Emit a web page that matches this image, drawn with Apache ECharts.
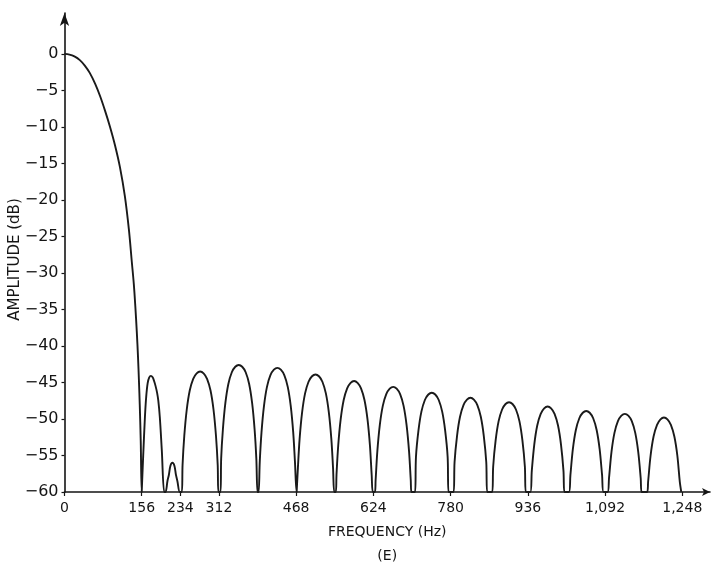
<!DOCTYPE html>
<html><head><meta charset="utf-8">
<script src="https://cdn.jsdelivr.net/npm/echarts@6/dist/echarts.min.js"></script>
<style>html,body{margin:0;padding:0;background:#fff}#c{width:714px;height:566px}</style>
</head><body><div id="c"></div>
<script>
// Tick values (Hz and dB)
const xTickValues = [0, 156, 234, 312, 468, 624, 780, 936, 1092, 1248];
const yTickValues = [0, -5, -10, -15, -20, -25, -30, -35, -40, -45, -50, -55, -60];

// Curve points: [frequency Hz, amplitude dB]
const mainLobe = [[0,0],[10,-0.1],[20,-0.35],[31,-0.85],[41,-1.6],[51,-2.6],[62,-4.1],[72,-5.8],[82,-7.8],[92,-10],[102,-12.5],[112,-15.5],[122,-19.5],[130,-24],[136,-28.5],[140,-31.5],[143,-34.5],[146,-38],[148.5,-41.5],[150.5,-45],[152,-48],[154,-53],[156,-60]];
const lobe1  = [[157,-60],[159,-55],[162.5,-49.7],[165,-47],[168,-45.1],[171,-44.35],[174.5,-44.1],[178,-44.3],[181,-44.8],[184,-45.5],[187,-46.4],[189.5,-47.5],[192.5,-49.7],[196.5,-54.2],[201.5,-60]];
const lobe2  = [[204,-60],[208,-58.5],[211,-57.6],[214,-56.4],[218,-56],[222,-56.4],[225,-57.6],[228,-58.5],[233,-60]];
const lobe3  = [[237,-60],[238.5,-56.3],[242,-52.3],[247,-48.7],[253,-46.1],[260,-44.5],[267,-43.75],[274,-43.5],[281,-43.75],[288,-44.5],[295,-46.1],[301,-48.7],[306,-52.3],[309.5,-56.3],[311,-60]];
const lobe4  = [[315,-60],[316.5,-55.4],[320,-51.4],[325,-47.8],[331,-45.2],[338,-43.6],[345,-42.85],[352,-42.6],[359,-42.85],[366,-43.6],[373,-45.2],[379,-47.8],[384,-51.4],[387.5,-55.4],[390,-60]];
const lobe5  = [[392,-60],[394.5,-55.8],[398,-51.8],[403,-48.2],[409,-45.6],[416,-44],[423,-43.25],[430,-43],[437,-43.25],[444,-44],[451,-45.6],[457,-48.2],[462,-51.8],[465.5,-55.8],[469,-60]];
const lobe6  = [[470,-60],[471.5,-56.7],[475,-52.7],[480,-49.1],[486,-46.5],[493,-44.9],[500,-44.15],[507,-43.9],[514,-44.15],[521,-44.9],[528,-46.5],[534,-49.1],[539,-52.7],[542.5,-56.7],[545,-60]];
const lobe7  = [[548,-60],[549.5,-57.6],[553,-53.6],[558,-50],[564,-47.4],[571,-45.8],[578,-45.05],[585,-44.8],[592,-45.05],[599,-45.8],[606,-47.4],[612,-50],[617,-53.6],[620.5,-57.6],[623,-60]];
const lobe8  = [[627,-60],[628.5,-58.4],[632,-54.4],[637,-50.8],[643,-48.2],[650,-46.6],[657,-45.85],[664,-45.6],[671,-45.85],[678,-46.6],[685,-48.2],[691,-50.8],[696,-54.4],[699.5,-58.4],[701,-60]];
const lobe9  = [[708,-60],[710,-55.2],[715,-51.6],[721,-49],[728,-47.4],[735,-46.65],[742,-46.4],[749,-46.65],[756,-47.4],[763,-49],[769,-51.6],[774,-55.2],[776,-60]];
const lobe10 = [[786,-60],[788,-55.9],[793,-52.3],[799,-49.7],[806,-48.1],[813,-47.35],[820,-47.1],[827,-47.35],[834,-48.1],[841,-49.7],[847,-52.3],[852,-55.9],[854,-60]];
const lobe11 = [[864,-60],[866,-56.5],[871,-52.9],[877,-50.3],[884,-48.7],[891,-47.95],[898,-47.7],[905,-47.95],[912,-48.7],[919,-50.3],[925,-52.9],[930,-56.5],[932,-60]];
const lobe12 = [[941,-60],[944,-57.1],[949,-53.5],[955,-50.9],[962,-49.3],[969,-48.55],[976,-48.3],[983,-48.55],[990,-49.3],[997,-50.9],[1003,-53.5],[1008,-57.1],[1010,-60]];
const lobe13 = [[1019,-60],[1022,-57.7],[1027,-54.1],[1033,-51.5],[1040,-49.9],[1047,-49.15],[1054,-48.9],[1061,-49.15],[1068,-49.9],[1075,-51.5],[1081,-54.1],[1086,-57.7],[1089,-60]];
const lobe14 = [[1097,-60],[1100,-58.1],[1105,-54.5],[1111,-51.9],[1118,-50.3],[1125,-49.55],[1132,-49.3],[1139,-49.55],[1146,-50.3],[1153,-51.9],[1159,-54.5],[1164,-58.1],[1166,-60]];
const lobe15 = [[1177,-60],[1179,-58.6],[1184,-55],[1190,-52.4],[1197,-50.8],[1204,-50.05],[1211,-49.8],[1218,-50.05],[1225,-50.8],[1232,-52.4],[1238,-55],[1243,-58.6],[1246,-60]];

const sideLobes = [lobe1, lobe2, lobe3, lobe4, lobe5, lobe6, lobe7, lobe8, lobe9, lobe10, lobe11, lobe12, lobe13, lobe14, lobe15];
const curve = mainLobe.concat(...sideLobes);

const FONT = 'DejaVu Sans';
const INK = '#151515';
const chart = echarts.init(document.getElementById('c'));
chart.setOption({
  animation: false,
  backgroundColor: '#fff',
  grid: { left: 64.5, right: 4, top: 13, bottom: 74, outerBoundsMode: 'none', containLabel: false },
  xAxis: {
    type: 'value', min: 0, max: 1304,
    name: 'FREQUENCY (Hz)\n(E)', nameLocation: 'middle', nameGap: 27,
    nameTextStyle: { fontFamily: FONT, fontSize: 14, color: INK, lineHeight: 24 },
    axisLine: { onZero: false, lineStyle: { color: INK, width: 1.6 }, symbol: ['none', 'arrow'], symbolSize: [6, 8] },
    axisTick: { show: true, length: 4, customValues: xTickValues, lineStyle: { color: INK, width: 1.2 } },
    axisLabel: { customValues: xTickValues, fontFamily: FONT, fontSize: 14, color: INK, margin: 9,
      formatter: v => v.toLocaleString('en-US') },
    splitLine: { show: false }
  },
  yAxis: {
    type: 'value', min: -60, max: 5.6,
    axisLine: { onZero: false, lineStyle: { color: INK, width: 1.6 }, symbol: ['none', 'arrow'], symbolSize: [7, 13] },
    axisTick: { show: true, length: 3, customValues: yTickValues, lineStyle: { color: INK, width: 1.2 } },
    axisLabel: { customValues: yTickValues, fontFamily: FONT, fontSize: 16, color: INK, margin: 6,
      formatter: v => v === 0 ? '0' : '\u2212' + Math.abs(v) },
    splitLine: { show: false }
  },
  graphic: [{
    type: 'text', x: 15, y: 259.5, rotation: Math.PI / 2,
    style: { text: 'AMPLITUDE (dB)', fontFamily: FONT, fontSize: 15, fill: INK, align: 'center', verticalAlign: 'middle' }
  }],
  series: [{
    type: 'line', data: curve, showSymbol: false, smooth: 0.35,
    lineStyle: { color: '#1a1a1a', width: 1.9 }, clip: true
  }]
});
</script></body></html>
